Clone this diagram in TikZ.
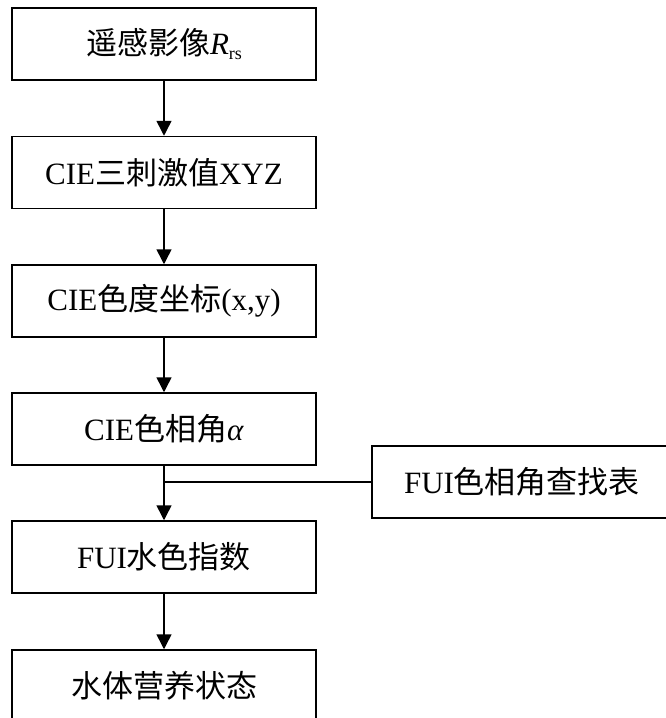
\documentclass[tikz,border=0pt]{standalone}
\usepackage{fontspec}
\setmainfont{Liberation Serif}
\newfontfamily\cjk{Noto Sans CJK SC}
\newcommand{\zh}[1]{{\cjk #1}}
\newcommand{\lowsub}[1]{\raisebox{-0.35ex}{\fontsize{18}{20}\selectfont #1}}
\usetikzlibrary{arrows.meta}
\begin{document}
\begin{tikzpicture}[x=1pt,y=-1pt,
  box/.style={draw=black,line width=1.5pt,minimum width=304pt,minimum height=72pt,inner sep=0pt,
    font=\fontsize{31}{36}\selectfont,fill=white},
  sidebox/.style={box,minimum width=300pt},
  link/.style={draw=black,line width=1.5pt},
  arr/.style={link,-{Triangle[length=15pt,width=15pt]}}]
\useasboundingbox (0,0) rectangle (666,718);
\clip (0,0) rectangle (666,718);
\fill[white] (0,0) rectangle (666,718);
\node[box] (b1) at (164,44) {\zh{遥感影像}\textit{R}\lowsub{rs}};
\node[box] (b2) at (164,172.5) {CIE\zh{三刺激值}XYZ};
\node[box] (b3) at (164,301) {CIE\zh{色度坐标}(x,y)};
\node[box] (b4) at (164,429) {CIE\zh{色相角}\textit{α}};
\node[box] (b5) at (164,557) {FUI\zh{水色指数}};
\node[box] (b6) at (164,686) {\zh{水体营养状态}};
\node[sidebox] (lut) at (522,482) {FUI\zh{色相角查找表}};
\coordinate (j) at (164,482);
\draw[arr] (b1) -- (b2);
\draw[arr] (b2) -- (b3);
\draw[arr] (b3) -- (b4);
\draw[arr] (b4) -- (b5);
\draw[link] (lut.west) -- (j);
\draw[arr] (b5) -- (b6);
\end{tikzpicture}
\end{document}
